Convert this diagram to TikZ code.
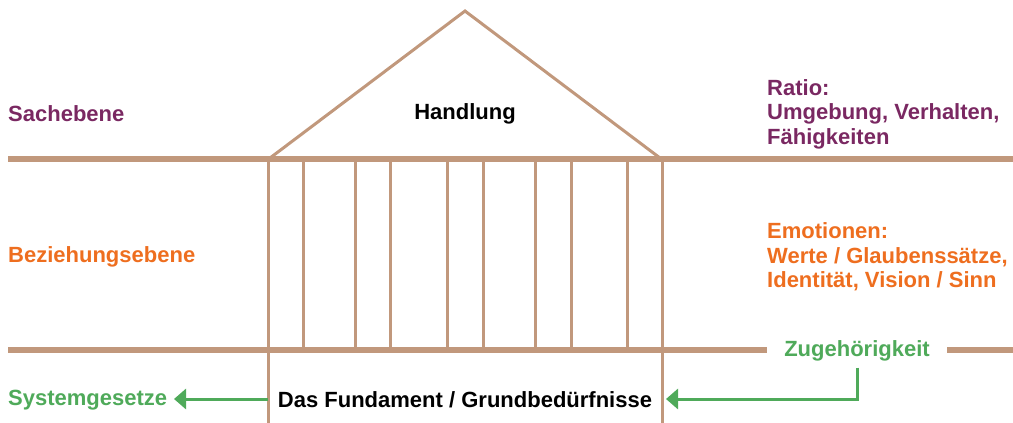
\documentclass[tikz,border=0pt]{standalone}
\usepackage{fontspec}
\setmainfont{Liberation Sans}
\usetikzlibrary{arrows.meta}

\definecolor{beam}{RGB}{193,152,124}
\definecolor{ratio}{RGB}{122,40,98}
\definecolor{emo}{RGB}{238,110,31}
\definecolor{sys}{RGB}{79,170,90}

\begin{document}
\begin{tikzpicture}[x=1pt,y=-1pt]
    \tikzset{
        label text/.style={font=\fontsize{22}{24.5}\selectfont\bfseries, inner sep=0pt},
        beam line/.style={draw=beam, line width=6pt},
        pillar/.style={draw=beam, line width=3pt},
        % green arrows
        sys arrow/.style={draw=sys, line width=3pt, -{Triangle[length=12pt,width=20pt]}}
    }
    \useasboundingbox (0,0) rectangle (1013,423);

    % floors
    \draw[beam line] (8,159) -- (1013,159);
    \draw[beam line] (8,350) -- (1013,350);

    % roof
    \draw[pillar, line join=miter] (270,158) -- (465,11) -- (660,158);

    % pillars
    \draw[pillar] (268,159) -- (268,423);
    \draw[pillar] (662,159) -- (662,423);
    \foreach \x in {303,355,390,447,483,535,571,627}
        \draw[pillar] (\x,159) -- (\x,350);

    % texts
    \node[label text] (handlung) at (465,114) {Handlung};
    \node[label text, anchor=west, text=ratio] (sache) at (8,114) {Sachebene};
    \node[label text, anchor=west, text=emo] (beziehung) at (8,257) {Beziehungsebene};
    \node[label text, anchor=west, text=ratio, align=left] (ratio) at (767,114)
        {Ratio:\\Umgebung, Verhalten,\\Fähigkeiten};
    \node[label text, anchor=west, text=emo, align=left] (emotion) at (767,257)
        {Emotionen:\\Werte / Glaubenssätze,\\Identität, Vision / Sinn};
    \node[label text] (fundament) at (465,400) {Das Fundament / Grundbedürfnisse};
    \node[label text, text=sys, fill=white, inner xsep=17pt, inner ysep=6pt] (zug) at (857,351) {Zugehörigkeit};
    \node[label text, anchor=west, text=sys] (system) at (8,400) {Systemgesetze};

    \coordinate (left post) at (268,399);
    \coordinate (right post) at (666,399);
    \coordinate (system tip) at (174,399);

    \draw[sys arrow] (zug.south) |- (right post);
    \draw[sys arrow] (left post) -- (system tip);
\end{tikzpicture}
\end{document}
